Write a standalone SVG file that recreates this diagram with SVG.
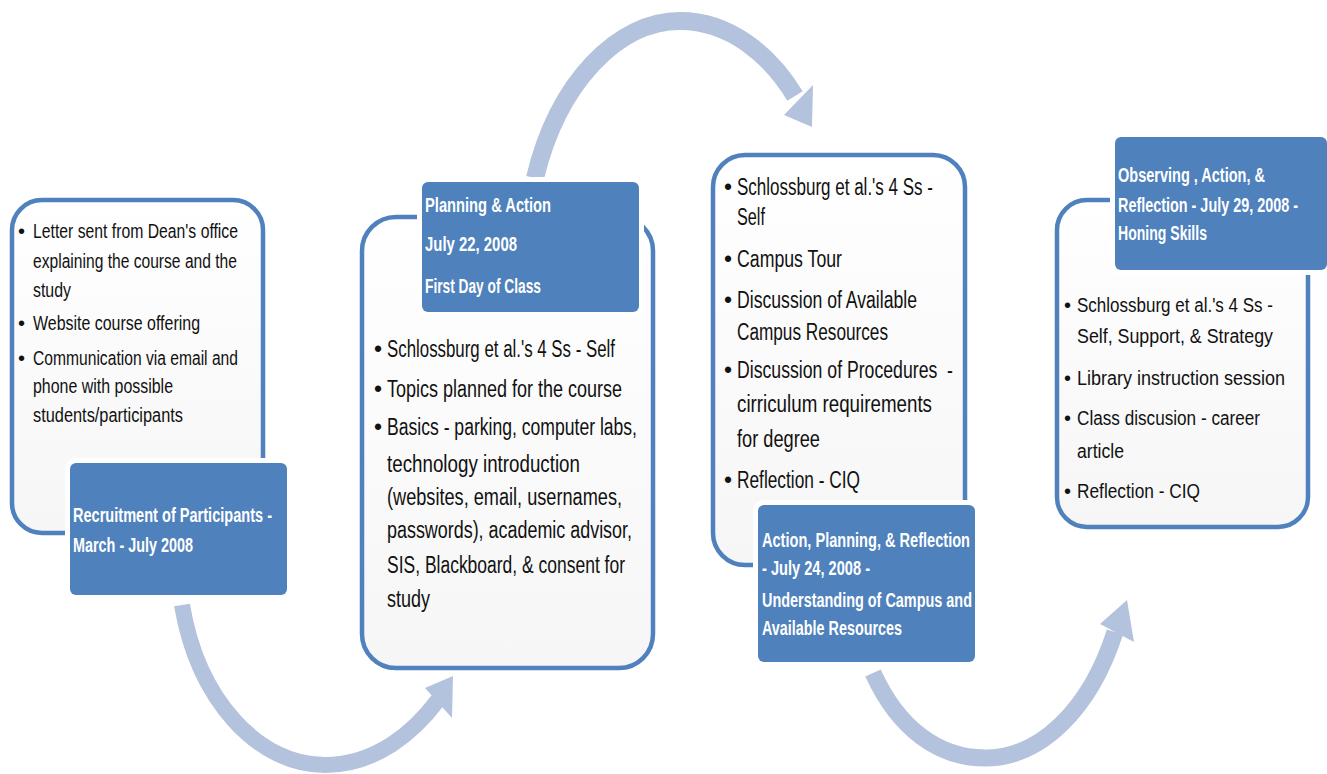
<svg xmlns="http://www.w3.org/2000/svg" width="1327" height="774" viewBox="0 0 1327 774">
<defs>
<linearGradient id="boxfill" x1="0" y1="0" x2="0" y2="1">
<stop offset="0" stop-color="#FFFFFF"/>
<stop offset="1" stop-color="#F6F6F6"/>
</linearGradient>
<style>
.frame{fill:url(#boxfill);stroke:#4F81BD;stroke-width:4.5}
.label{fill:#4F81BD;stroke:#FFFFFF;stroke-width:10;paint-order:stroke}
.body{font-family:"Liberation Sans Narrow","Liberation Sans",Arial,sans-serif;fill:#111111}
.s1{font-size:20px}
.s2{font-size:23px}
.lt{font-family:"Liberation Sans Narrow","Liberation Sans",Arial,sans-serif;fill:#FFFFFF;font-size:20px;font-weight:bold}
.lt2{font-size:21px}
.arrow{fill:none;stroke:#B3C2DD}
.head{fill:#B3C2DD}
</style>
</defs>
<rect width="1327" height="774" fill="#FFFFFF"/>

<g id="connectors">
<path class="arrow" stroke-width="16" d="M182 605 C198 700 258 765 325 765 C376 765 414 732 438 700"/>
<polygon class="head" points="453,676 425,688 452,718"/>
<path class="arrow" stroke-width="18" d="M535 178 C558 82 618 21 680 21 C730 21 770 55 795 96"/>
<polygon class="head" points="812,127 784,115 813,85"/>
<path class="arrow" stroke-width="17" d="M873 673 C898 728 938 758 985 758 C1040 758 1090 710 1115 632"/>
<polygon class="head" points="1127,600 1100,624 1134,642"/>
</g>

<g id="node1">
<rect class="frame" x="12" y="200" width="251" height="333" rx="30"/>
<g class="body s1">
<text x="18" y="238">•</text>
<text x="33" y="238" textLength="205" lengthAdjust="spacingAndGlyphs">Letter sent from Dean's office</text>
<text x="33" y="268" textLength="204" lengthAdjust="spacingAndGlyphs">explaining the course and the</text>
<text x="33" y="297" textLength="38" lengthAdjust="spacingAndGlyphs">study</text>
<text x="18" y="330">•</text>
<text x="33" y="330" textLength="167" lengthAdjust="spacingAndGlyphs">Website course offering</text>
<text x="18" y="365">•</text>
<text x="33" y="365" textLength="205" lengthAdjust="spacingAndGlyphs">Communication via email and</text>
<text x="33" y="393" textLength="140" lengthAdjust="spacingAndGlyphs">phone with possible</text>
<text x="33" y="422" textLength="150" lengthAdjust="spacingAndGlyphs">students/participants</text>
</g>
<rect class="label" x="70" y="463" width="217" height="132" rx="6"/>
<g class="lt">
<text x="73" y="522" textLength="199" lengthAdjust="spacingAndGlyphs">Recruitment of Participants -</text>
<text x="73" y="552" textLength="120" lengthAdjust="spacingAndGlyphs">March - July 2008</text>
</g>
</g>

<g id="node2">
<rect class="frame" x="362" y="217" width="291" height="451" rx="34"/>
<g class="body s2">
<text x="374" y="357">•</text>
<text x="387" y="357" textLength="228" lengthAdjust="spacingAndGlyphs">Schlossburg et al.'s 4 Ss - Self</text>
<text x="374" y="397">•</text>
<text x="387" y="397" textLength="235" lengthAdjust="spacingAndGlyphs">Topics planned for the course</text>
<text x="374" y="435">•</text>
<text x="387" y="435" textLength="250" lengthAdjust="spacingAndGlyphs">Basics - parking, computer labs,</text>
<text x="387" y="472" textLength="193" lengthAdjust="spacingAndGlyphs">technology introduction</text>
<text x="387" y="505" textLength="235" lengthAdjust="spacingAndGlyphs">(websites, email, usernames,</text>
<text x="387" y="538" textLength="245" lengthAdjust="spacingAndGlyphs">passwords), academic advisor,</text>
<text x="387" y="573" textLength="238" lengthAdjust="spacingAndGlyphs">SIS, Blackboard, &amp; consent for</text>
<text x="387" y="607" textLength="43" lengthAdjust="spacingAndGlyphs">study</text>
</g>
<rect class="label" x="422" y="182" width="217" height="130" rx="6"/>
<g class="lt lt2">
<text x="425" y="212" textLength="126" lengthAdjust="spacingAndGlyphs">Planning &amp; Action</text>
<text x="425" y="251" textLength="92" lengthAdjust="spacingAndGlyphs">July 22, 2008</text>
<text x="425" y="293" textLength="116" lengthAdjust="spacingAndGlyphs">First Day of Class</text>
</g>
</g>

<g id="node3">
<rect class="frame" x="713" y="155" width="252" height="410" rx="32"/>
<g class="body s2">
<text x="724" y="195">•</text>
<text x="737" y="195" textLength="196" lengthAdjust="spacingAndGlyphs">Schlossburg et al.'s 4 Ss -</text>
<text x="737" y="225" textLength="28" lengthAdjust="spacingAndGlyphs">Self</text>
<text x="724" y="267">•</text>
<text x="737" y="267" textLength="105" lengthAdjust="spacingAndGlyphs">Campus Tour</text>
<text x="724" y="308">•</text>
<text x="737" y="308" textLength="180" lengthAdjust="spacingAndGlyphs">Discussion of Available</text>
<text x="737" y="340" textLength="151" lengthAdjust="spacingAndGlyphs">Campus Resources</text>
<text x="724" y="378">•</text>
<text x="737" y="378" textLength="216" lengthAdjust="spacingAndGlyphs" xml:space="preserve">Discussion of Procedures  -</text>
<text x="737" y="412" textLength="195" lengthAdjust="spacingAndGlyphs">cirriculum requirements</text>
<text x="737" y="447" textLength="83" lengthAdjust="spacingAndGlyphs">for degree</text>
<text x="724" y="488">•</text>
<text x="737" y="488" textLength="123" lengthAdjust="spacingAndGlyphs">Reflection - CIQ</text>
</g>
<rect class="label" x="758" y="505" width="217" height="157" rx="6"/>
<g class="lt">
<text x="762" y="547" textLength="208" lengthAdjust="spacingAndGlyphs">Action, Planning, &amp; Reflection</text>
<text x="762" y="575" textLength="108" lengthAdjust="spacingAndGlyphs">- July 24, 2008 -</text>
<text x="762" y="607" textLength="210" lengthAdjust="spacingAndGlyphs">Understanding of Campus and</text>
<text x="762" y="635" textLength="140" lengthAdjust="spacingAndGlyphs">Available Resources</text>
</g>
</g>

<g id="node4">
<rect class="frame" x="1057" y="200" width="251" height="327" rx="30"/>
<g class="body s1">
<text x="1064" y="312">•</text>
<text x="1077" y="312" textLength="196" lengthAdjust="spacingAndGlyphs">Schlossburg et al.'s 4 Ss -</text>
<text x="1077" y="343" textLength="196" lengthAdjust="spacingAndGlyphs">Self, Support, &amp; Strategy</text>
<text x="1064" y="385">•</text>
<text x="1077" y="385" textLength="208" lengthAdjust="spacingAndGlyphs">Library instruction session</text>
<text x="1064" y="425">•</text>
<text x="1077" y="425" textLength="183" lengthAdjust="spacingAndGlyphs">Class discusion - career</text>
<text x="1077" y="458" textLength="47" lengthAdjust="spacingAndGlyphs">article</text>
<text x="1064" y="498">•</text>
<text x="1077" y="498" textLength="123" lengthAdjust="spacingAndGlyphs">Reflection - CIQ</text>
</g>
<rect class="label" x="1115" y="137" width="212" height="133" rx="6"/>
<g class="lt">
<text x="1118" y="182" textLength="147" lengthAdjust="spacingAndGlyphs">Observing , Action, &amp;</text>
<text transform="translate(1118 212) scale(0.6 1)" x="0" y="0" textLength="300" lengthAdjust="spacingAndGlyphs">Reflection - July 29, 2008 -</text>
<text x="1118" y="240" textLength="89" lengthAdjust="spacingAndGlyphs">Honing Skills</text>
</g>
</g>
</svg>
